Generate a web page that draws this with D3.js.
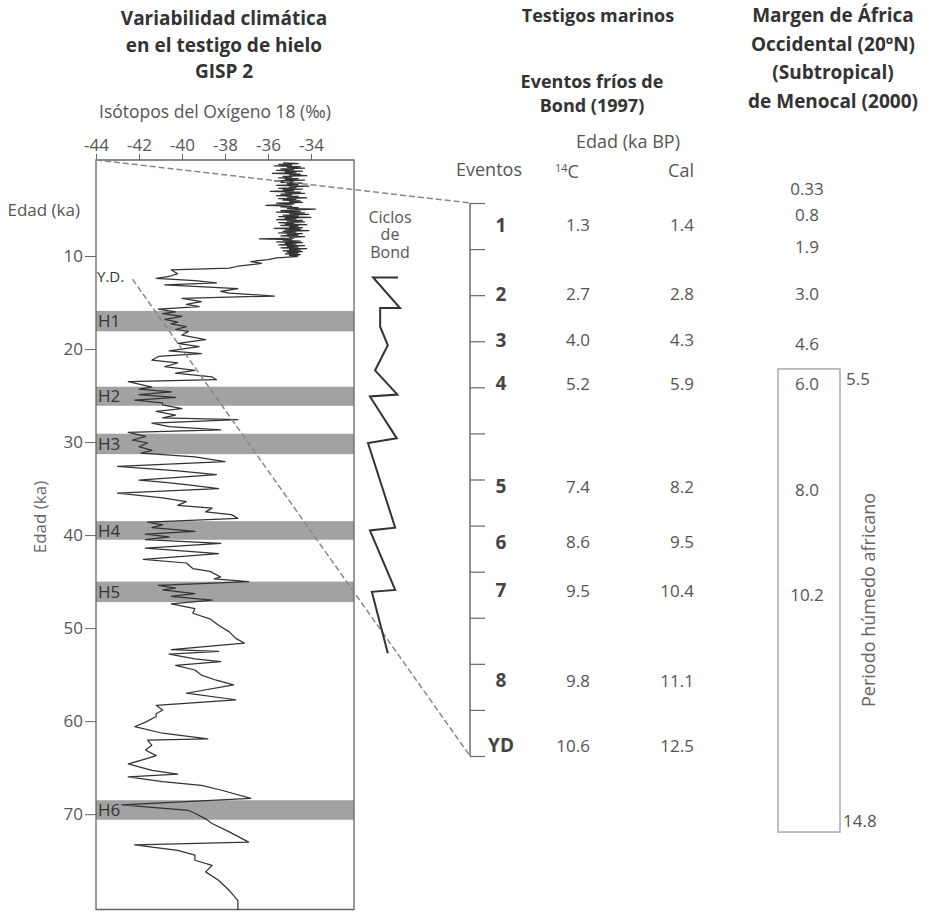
<!DOCTYPE html>
<html>
<head>
<meta charset="utf-8">
<script src="https://cdn.jsdelivr.net/npm/d3@7"></script>
<style>
  html, body { margin: 0; padding: 0; background: #fff; }
  svg { display: block; font-family: "Open Sans", "Noto Sans", sans-serif; }
</style>
</head>
<body>
<svg id="chart" width="930" height="912"></svg>
<script>
// ---------------- DATA ----------------
// GISP2 oxygen-18 record: [age ka, d18O permil]
const gisp2 = [
  [0.00,-35.3],[0.08,-34.6],[0.16,-35.5],[0.24,-34.9],[0.32,-35.7],[0.40,-34.5],[0.48,-35.1],[0.56,-34.3],
  [0.64,-35.4],[0.72,-34.8],[0.80,-35.6],[0.88,-34.4],[0.96,-35.2],[1.04,-34.7],[1.12,-35.8],[1.20,-34.5],
  [1.28,-35.0],[1.36,-34.2],[1.44,-35.3],[1.52,-34.9],[1.60,-35.5],[1.68,-34.6],[1.76,-35.2],[1.84,-34.3],
  [1.92,-35.7],[2.00,-34.8],[2.08,-35.4],[2.16,-34.4],[2.24,-35.1],[2.32,-34.6],[2.40,-35.6],[2.48,-34.1],
  [2.56,-35.0],[2.64,-34.7],[2.72,-35.5],[2.80,-34.4],[2.88,-35.3],[2.96,-34.8],[3.04,-35.9],[3.12,-34.5],
  [3.20,-35.2],[3.28,-34.3],[3.36,-35.4],[3.44,-34.9],[3.52,-35.6],[3.60,-34.6],[3.68,-35.1],[3.76,-34.2],
  [3.84,-35.5],[3.92,-34.7],[4.00,-35.3],[4.08,-34.5],[4.16,-35.0],[4.24,-34.4],[4.32,-35.6],[4.40,-34.8],
  [4.48,-35.2],[4.56,-36.1],[4.64,-34.9],[4.72,-35.4],[4.80,-34.6],[4.88,-35.1],[4.96,-33.8],[5.04,-34.7],
  [5.12,-35.4],[5.20,-34.5],[5.28,-35.6],[5.36,-34.3],[5.44,-35.0],[5.52,-34.1],[5.60,-35.3],[5.68,-34.6],
  [5.76,-35.5],[5.84,-34.0],[5.92,-35.2],[6.00,-34.7],[6.08,-35.6],[6.16,-34.4],[6.24,-35.1],[6.32,-34.3],
  [6.40,-35.5],[6.48,-34.8],[6.56,-35.2],[6.64,-34.2],[6.72,-35.4],[6.80,-34.6],[6.88,-35.0],[6.96,-34.4],
  [7.04,-35.7],[7.12,-34.5],[7.20,-35.2],[7.28,-34.1],[7.36,-35.3],[7.44,-34.7],[7.52,-35.5],[7.60,-34.4],
  [7.68,-35.1],[7.76,-34.6],[7.84,-35.4],[7.92,-34.3],[8.00,-35.0],[8.08,-34.8],[8.16,-36.4],[8.24,-34.9],
  [8.32,-35.3],[8.40,-34.5],[8.48,-35.6],[8.56,-34.4],[8.64,-35.2],[8.72,-34.7],[8.80,-35.5],[8.88,-34.3],
  [8.96,-35.1],[9.04,-34.6],[9.12,-35.4],[9.20,-34.2],[9.28,-35.0],[9.36,-34.5],[9.44,-35.3],[9.52,-34.4],
  [9.60,-35.1],[9.68,-34.6],[9.76,-35.2],[9.84,-34.5],[9.92,-35.0],[10.0,-34.6],
  [10.07,-34.7],[10.2,-35.6],[10.4,-36.0],[10.6,-36.8],[10.8,-36.3],
  [11.1,-37.4],[11.3,-37.8],[11.5,-40.5],[11.9,-40.2],[12.2,-40.6],[12.4,-41.2],[12.65,-39.4],[12.9,-38.4],
  [13.1,-40.8],[13.5,-37.4],[13.8,-38.2],[14.0,-37.8],[14.3,-35.7],[14.55,-40.0],[14.9,-39.1],[15.2,-39.8],
  [15.45,-39.2],[15.7,-41.1],[16.0,-40.3],[16.2,-40.9],[16.5,-40.0],[16.8,-40.8],[17.1,-40.2],[17.3,-40.5],
  [17.6,-39.8],[17.9,-40.3],[18.1,-39.7],[18.5,-40.0],[19.0,-38.9],[19.4,-40.2],[19.75,-39.2],[20.2,-40.6],
  [20.5,-39.1],[20.8,-41.1],[21.2,-41.4],[21.5,-40.2],[21.9,-40.8],[22.3,-39.4],[22.6,-40.3],[23.0,-38.6],
  [23.3,-38.4],[23.5,-42.5],[24.1,-41.4],[24.3,-42.0],[24.6,-40.5],[24.9,-42.0],[25.2,-40.3],[25.5,-42.2],
  [25.8,-40.9],[26.0,-40.9],[26.4,-40.0],[26.7,-41.2],[27.1,-40.3],[27.4,-40.9],[27.6,-37.4],[27.97,-41.4],
  [28.35,-40.6],[28.7,-38.2],[28.96,-42.5],[29.4,-41.7],[29.8,-42.3],[30.1,-41.6],[30.5,-42.0],[30.9,-41.4],
  [31.2,-41.9],[31.6,-39.4],[32.1,-38.0],[32.6,-43.0],[33.1,-40.2],[33.5,-38.4],[34.1,-42.0],[34.3,-40.9],
  [34.6,-39.7],[35.0,-38.3],[35.5,-43.0],[36.0,-40.9],[36.4,-39.8],[36.8,-40.2],[37.1,-38.6],[37.5,-38.9],
  [37.8,-37.7],[38.2,-37.4],[38.6,-41.6],[38.9,-40.9],[39.2,-41.4],[39.6,-39.4],[39.9,-41.7],[40.2,-40.6],
  [40.5,-41.7],[40.9,-38.2],[41.4,-41.7],[42.0,-38.3],[42.6,-41.8],[43.0,-39.8],[43.6,-39.5],[43.9,-38.7],
  [44.5,-38.2],[44.7,-38.5],[45.0,-36.9],[45.4,-41.1],[45.7,-40.3],[45.9,-40.9],[46.3,-39.4],[46.6,-40.5],
  [47.0,-38.6],[47.4,-40.5],[47.9,-39.4],[48.4,-39.5],[49.0,-38.7],[49.7,-38.3],[50.4,-37.8],[51.1,-37.5],
  [51.6,-37.1],[52.3,-40.5],[52.5,-38.3],[52.8,-40.6],[53.3,-39.4],[53.6,-38.2],[54.0,-40.3],[54.5,-39.4],
  [55.05,-39.1],[55.6,-38.4],[56.1,-37.6],[57.0,-39.8],[57.7,-37.5],[58.3,-41.2],[58.8,-40.9],[59.2,-41.2],
  [59.5,-41.2],[60.1,-41.7],[60.6,-42.2],[61.3,-40.9],[61.9,-38.8],[62.05,-41.6],[62.6,-41.4],[63.1,-41.7],
  [63.7,-41.2],[64.0,-41.6],[64.6,-42.5],[65.3,-41.4],[65.7,-40.2],[66.0,-42.5],[66.5,-40.9],[66.9,-39.1],
  [67.4,-38.2],[68.3,-36.8],[69.0,-42.8],[69.6,-39.7],[69.9,-39.4],[70.5,-38.9],[71.0,-38.6],[71.9,-37.8],
  [73.0,-36.9],[73.3,-42.2],[73.9,-40.2],[74.4,-39.4],[74.95,-39.4],[75.5,-38.6],[76.2,-38.9],[77.1,-38.3],
  [78.2,-37.8],[79.3,-37.4],[80.3,-37.4]
];
// Heinrich events: [label, start ka, end ka]
const heinrich = [["H1",15.9,18.1],["H2",24.05,26.1],["H3",29.1,31.3],["H4",38.5,40.5],["H5",45.0,47.2],["H6",68.5,70.6]];
// Bond cycles sawtooth: [age ka, relative warmth 0..1]
const bondCycles = [
  [12.3,0.94],[12.3,0.16],[15.6,1.0],[15.6,0.38],[17.6,0.38],[19.6,0.62],[22.3,0.22],[24.9,0.92],
  [25.1,0.06],[29.6,0.9],[30.1,0.0],[39.2,0.85],[39.5,0.06],[45.9,0.85],[46.1,0.12],[52.7,0.62]
];
const oxTicks = [-44,-42,-40,-38,-36,-34];
const ageTicks = [10,20,30,40,50,60,70];
const youngerDryasAge = 12.5;
const youngerDryasO18 = -42.3;
// Bond (1997) cold events, position on the marine-core column axis (0..12)
const bondEvents = ["1","2","3","4","5","6","7","8","YD"];
const bondC14 = ["1.3","2.7","4.0","5.2","7.4","8.6","9.5","9.8","10.6"];
const bondCal = ["1.4","2.8","4.3","5.9","8.2","9.5","10.4","11.1","12.5"];
const bondRowPos = [0.48,1.97,2.98,3.92,6.15,7.36,8.41,10.36,11.77];
const columnTicks = d3.range(0,13);
// deMenocal (2000) ages and their positions on the column axis
const menocalAges = ["0.33","0.8","1.9","3.0","4.6","6.0","8.0","10.2"];
const menocalPos = [-0.30,0.26,0.95,1.97,3.06,3.93,6.23,8.5];
const ahpStart = ["5.5",3.6];
const ahpEnd = ["14.8",13.65];

// ---------------- DRAW ----------------
const svg = d3.select("#chart");
svg.append("rect").attr("width",930).attr("height",912).attr("fill","#fff");

const x = d3.scaleLinear().domain([-44,-32]).range([96,354]);
const y = d3.scaleLinear().domain([-0.32,80.3]).range([160,910]);
const xb = d3.scaleLinear().domain([0,1]).range([368,400]);
const yc = d3.scaleLinear().domain([0,12]).range([203,756]);

const gray = "#555";
// Heinrich bands
const hb = svg.append("g");
hb.selectAll("rect").data(heinrich).join("rect")
  .attr("x", x(-44)).attr("width", x(-32)-x(-44))
  .attr("y", d => y(d[1])).attr("height", d => y(d[2])-y(d[1]))
  .attr("fill","#a2a2a2");
hb.selectAll("text").data(heinrich).join("text")
  .attr("x", x(-44)+2).attr("y", d => (y(d[1])+y(d[2]))/2).attr("dy","0.36em")
  .attr("font-size",17).attr("fill","#333").text(d => d[0]);

// box
svg.append("path")
  .attr("d", `M${x(-44)},910V160H${x(-32)}V910`)
  .attr("fill","none").attr("stroke","#666").attr("stroke-width",1.3);
svg.append("line").attr("x1",x(-44)).attr("x2",x(-32)).attr("y1",909.5).attr("y2",909.5)
  .attr("stroke","#666").attr("stroke-width",1.3);

// axes
const ax = svg.append("g").attr("transform","translate(0,160)")
  .call(d3.axisTop(x).tickValues(oxTicks).tickSize(6).tickPadding(3).tickFormat(d => String(d)));
ax.select(".domain").remove();
ax.selectAll("line").attr("stroke","#666");
ax.selectAll("text").attr("font-size",17).attr("fill",gray).attr("font-family","Open Sans");

const ay = svg.append("g").attr("transform",`translate(${x(-44)},0)`)
  .call(d3.axisLeft(y).tickValues(ageTicks).tickSize(11).tickPadding(2));
ay.select(".domain").remove();
ay.selectAll("line").attr("stroke","#666");
ay.selectAll("text").attr("font-size",17).attr("fill",gray).attr("font-family","Open Sans");

// O18 curve
svg.append("path").datum(gisp2)
  .attr("d", d3.line().x(d => x(d[1])).y(d => y(d[0])))
  .attr("fill","none").attr("stroke","#333").attr("stroke-width",1.25).attr("stroke-linejoin","round");

// dashed connectors
svg.append("line")
  .attr("x1", x(-44)).attr("y1", y(-0.32)).attr("x2", 470).attr("y2", yc(0))
  .attr("stroke","#888").attr("stroke-width",1.5).attr("stroke-dasharray","6,3");
svg.append("line")
  .attr("x1", x(youngerDryasO18)).attr("y1", y(youngerDryasAge)).attr("x2", 470).attr("y2", yc(12))
  .attr("stroke","#888").attr("stroke-width",1.5).attr("stroke-dasharray","6,3");
svg.append("text").attr("x",97).attr("y",y(youngerDryasAge)).attr("dy","0.2em")
  .attr("font-size",15).attr("fill","#333").text("Y.D.");

// Bond cycles
svg.append("path").datum(bondCycles)
  .attr("d", d3.line().x(d => xb(d[1])).y(d => y(d[0])))
  .attr("fill","none").attr("stroke","#333").attr("stroke-width",2);
const cb = svg.append("text").attr("text-anchor","middle").attr("font-size",16).attr("fill",gray);
[["Ciclos",223],["de",240],["Bond",258]].forEach(([t,yy]) =>
  cb.append("tspan").attr("x",390).attr("y",yy).text(t));

// marine-core column axis
const ac = svg.append("g").attr("transform","translate(470,0)")
  .call(d3.axisRight(yc).tickValues(columnTicks).tickSize(15).tickFormat(""));
ac.select(".domain").attr("d", `M0,${yc(0)}V${yc(12)}`).attr("stroke","#555").attr("stroke-width",1.3);
ac.selectAll(".tick line").attr("stroke","#666").attr("stroke-width",1.2);

// events table
const rows = svg.append("g");
rows.selectAll("text.ev").data(bondEvents).join("text").attr("class","ev")
  .attr("x",501).attr("y",(d,i) => yc(bondRowPos[i])).attr("dy","0.36em")
  .attr("text-anchor","middle").attr("font-size",19).attr("font-weight","bold").attr("fill","#444").text(d => d);
rows.selectAll("text.c14").data(bondC14).join("text").attr("class","c14")
  .attr("x",590).attr("y",(d,i) => yc(bondRowPos[i])).attr("dy","0.36em")
  .attr("text-anchor","end").attr("font-size",17).attr("fill",gray).text(d => d);
rows.selectAll("text.cal").data(bondCal).join("text").attr("class","cal")
  .attr("x",694).attr("y",(d,i) => yc(bondRowPos[i])).attr("dy","0.36em")
  .attr("text-anchor","end").attr("font-size",17).attr("fill",gray).text(d => d);

// Menocal column
svg.append("rect").attr("x",778).attr("width",62)
  .attr("y", yc(ahpStart[1])).attr("height", yc(ahpEnd[1]) - yc(ahpStart[1]))
  .attr("fill","none").attr("stroke","#aaa").attr("stroke-width",1.5);
svg.selectAll("text.men").data(menocalAges).join("text").attr("class","men")
  .attr("x",807).attr("y",(d,i) => yc(menocalPos[i])).attr("dy","0.36em")
  .attr("text-anchor","middle").attr("font-size",17).attr("fill",gray).text(d => d);
svg.append("text").attr("x",846).attr("y",yc(ahpStart[1])+10).attr("dy","0.36em")
  .attr("font-size",17).attr("fill",gray).text(ahpStart[0]);
svg.append("text").attr("x",843).attr("y",yc(ahpEnd[1])-11).attr("dy","0.36em")
  .attr("font-size",17).attr("fill",gray).text(ahpEnd[0]);
svg.append("text").attr("transform","translate(869,600) rotate(-90)").attr("text-anchor","middle")
  .attr("dy","0.36em").attr("font-size",18).attr("fill","#666").text("Periodo húmedo africano");

// headers
function title(lines, cx, y0, dy, size) {
  const t = svg.append("text").attr("text-anchor","middle").attr("font-size",size)
    .attr("font-weight","bold").attr("fill","#333");
  lines.forEach((l,i) => t.append("tspan").attr("x",cx).attr("y",y0 + i*dy).text(l));
}
title(["Variabilidad climática","en el testigo de hielo","GISP 2"], 224, 25, 26.5, 19);
title(["Testigos marinos"], 598, 22, 0, 18);
title(["Eventos fríos de","Bond (1997)"], 592, 88, 24, 18);
title(["Margen de África","Occidental (20ºN)","(Subtropical)","de Menocal (2000)"], 833, 22, 28.7, 19);

svg.append("text").attr("x",215).attr("y",118).attr("text-anchor","middle")
  .attr("font-size",17.5).attr("fill",gray).text("Isótopos del Oxígeno 18 (‰)");
svg.append("text").attr("x",628).attr("y",148).attr("text-anchor","middle")
  .attr("font-size",18).attr("fill",gray).text("Edad (ka BP)");
svg.append("text").attr("x",489).attr("y",176).attr("text-anchor","middle")
  .attr("font-size",18).attr("fill",gray).text("Eventos");
const c14h = svg.append("text").attr("x",555).attr("y",178).attr("font-size",18).attr("fill",gray);
c14h.append("tspan").attr("font-size",11).attr("dy",-6).text("14");
c14h.append("tspan").attr("dy",6).text("C");
svg.append("text").attr("x",694).attr("y",177).attr("text-anchor","end")
  .attr("font-size",18).attr("fill",gray).text("Cal");
svg.append("text").attr("x",80).attr("y",216).attr("text-anchor","end")
  .attr("font-size",17).attr("fill",gray).text("Edad (ka)");
svg.append("text").attr("transform","translate(40,517) rotate(-90)").attr("text-anchor","middle")
  .attr("dy","0.36em").attr("font-size",17).attr("fill","#666").text("Edad (ka)");
</script>
</body>
</html>
